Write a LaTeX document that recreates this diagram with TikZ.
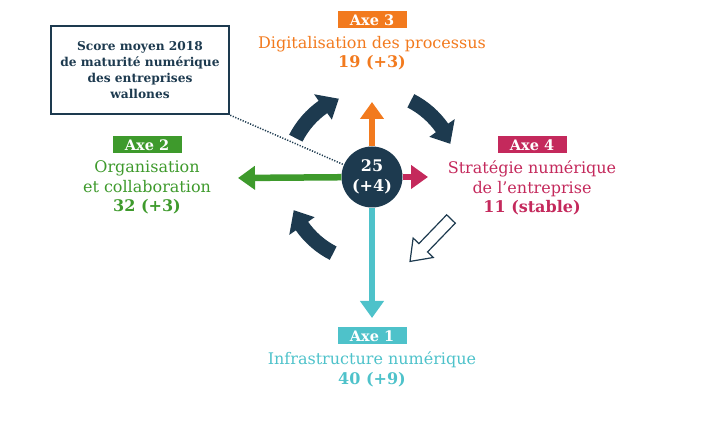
\documentclass[tikz,border=0pt]{standalone}
\usepackage{fontspec}
\setmainfont{DejaVu Serif}
\usepackage{xcolor}
\usepackage{tikz}
\usetikzlibrary{arrows.meta,positioning}
\definecolor{axenavy}{HTML}{1D3A4F}
\definecolor{axeorange}{HTML}{F27A1E}
\definecolor{axegreen}{HTML}{3E9A2C}
\definecolor{axepink}{HTML}{C4295C}
\definecolor{axecyan}{HTML}{4EC2CA}

\begin{document}
\begin{tikzpicture}[
  x=1pt,y=1pt,
  node distance=7pt,
  tag/.style={fill=#1,text=white,font=\fontsize{14.5}{16}\selectfont\bfseries,minimum width=69pt,minimum height=17pt,inner sep=0pt},
  label/.style={text=#1,align=center,font=\fontsize{16}{19.5}\selectfont,inner sep=0pt},
  axis/.style={line width=6.5pt,draw=#1,-{Triangle[length=17pt,width=23pt]}},
  turn/.style={fill=axenavy},
  hollow/.style={draw=axenavy,fill=white,line width=1.2pt,line join=miter}
]
\useasboundingbox (0,0) rectangle (704,435);

% centre
\node[circle,fill=axenavy,text=white,minimum size=61pt,inner sep=0pt,align=center,
  font=\fontsize{16}{20}\selectfont\bfseries] (score) at (372,258) {25\\(+4)};

% axes
\coordinate (tip3) at (372,333);
\coordinate (tip2) at (238,257);
\coordinate (tip4) at (428,258);
\coordinate (tip1) at (372,117);
\draw[axis=axeorange] (score) -- (tip3);
\draw[axis=axegreen] (score) -- (tip2);
\draw[axis=axepink] (score) -- (tip4);
\draw[axis=axecyan] (score) -- (tip1);

% rotation
\foreach \a in {135,45,-135}
  \fill[turn,shift={(score.center)}] (\a+18:78) arc[start angle=\a+18,end angle=\a-10,radius=78]
    -- (\a-10:70) -- (\a-22:85) -- (\a-10:101) -- (\a-10:93)
    arc[start angle=\a-10,end angle=\a+18,radius=93] -- cycle;
\draw[hollow,shift={(451,216)},rotate=-134] (0,6) -- (40,6) -- (40,14) -- (59,0)
    -- (40,-14) -- (40,-6) -- (0,-6) -- cycle;

% labels
\node[tag=axeorange] (axe3) at (372,415) {Axe 3};
\node[label=axeorange,below=of axe3] (txt3) {Digitalisation des processus\\\textbf{19 (+3)}};
\node[tag=axegreen] (axe2) at (147,290) {Axe 2};
\node[label=axegreen,below=of axe2] (txt2) {Organisation\\et collaboration\\\textbf{32 (+3)}};
\node[tag=axepink] (axe4) at (532,290) {Axe 4};
\node[label=axepink,below=of axe4] (txt4) {Stratégie numérique\\de l’entreprise\\\textbf{11 (stable)}};
\node[tag=axecyan] (axe1) at (372,99) {Axe 1};
\node[label=axecyan,below=of axe1] (txt1) {Infrastructure numérique\\\textbf{40 (+9)}};

% note
\node[draw=axenavy,line width=2.5pt,minimum width=178pt,minimum height=88pt,align=center,
  text=axenavy,font=\fontsize{12.2}{16}\selectfont\bfseries] (note) at (140,365)
  {Score moyen 2018\\de maturité numérique\\des entreprises\\wallones};
\draw[axenavy,line width=1.5pt,dash pattern=on 1.2pt off 1.5pt] (note.south east) -- (score);
\end{tikzpicture}
\end{document}
